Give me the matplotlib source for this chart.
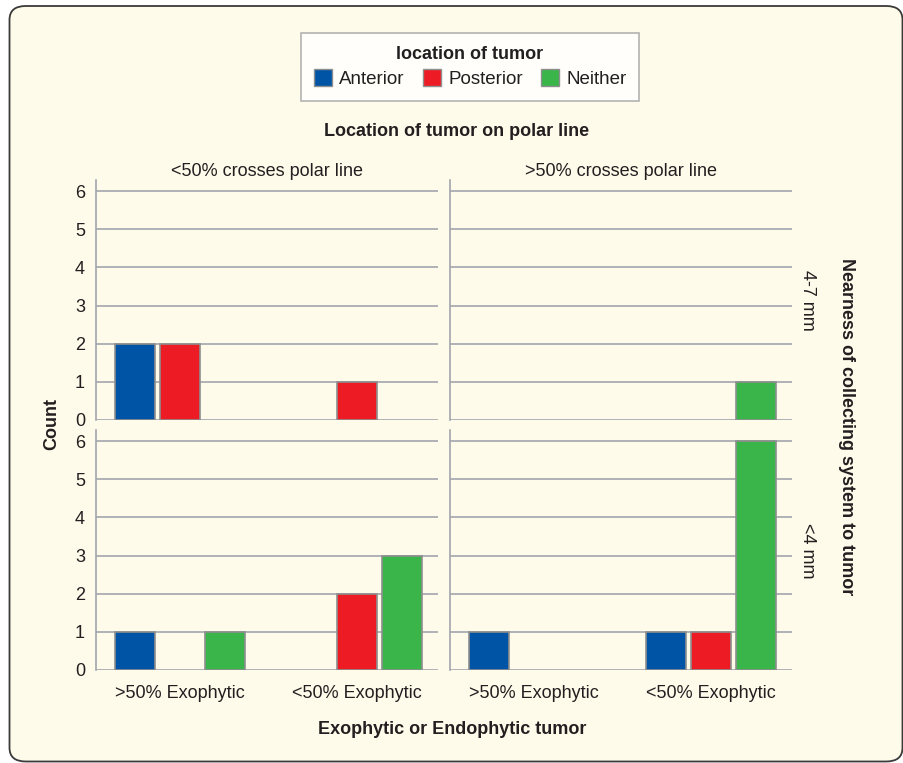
import matplotlib
matplotlib.use("Agg")
import matplotlib.pyplot as plt
from matplotlib.patches import Patch, FancyBboxPatch
import numpy as np

plt.rcParams['font.family'] = ['Liberation Sans', 'DejaVu Sans']

# data
exophytic = [">50% Exophytic", "<50% Exophytic"]
locations = ["Anterior", "Posterior", "Neither"]
polar = ["<50% crosses polar line", ">50% crosses polar line"]
nearness = ["4-7 mm", "<4 mm"]

# counts per location, values for each exophytic group
near47_lt50 = {"Anterior": [2, 0], "Posterior": [2, 1], "Neither": [0, 0]}
near47_gt50 = {"Anterior": [0, 0], "Posterior": [0, 0], "Neither": [0, 1]}
near4_lt50 = {"Anterior": [1, 0], "Posterior": [0, 2], "Neither": [1, 3]}
near4_gt50 = {"Anterior": [1, 1], "Posterior": [0, 1], "Neither": [0, 6]}
panels = [[near47_lt50, near47_gt50], [near4_lt50, near4_gt50]]

colors = {"Anterior": "#0054A6", "Posterior": "#ED1C24", "Neither": "#39B54A"}
edge = "#8E8E8E"
grid_c = "#A3A5AD"
bg = "#FFFBEA"
txt = "#231F20"

W, H = 904, 763
fig = plt.figure(figsize=(W / 100, H / 100), dpi=100)
fig.patch.set_facecolor("white")

frame = FancyBboxPatch((9.5 / W, 1.5 / H), 893 / W, 755.5 / H,
                       boxstyle="round,pad=0,rounding_size=0.018",
                       transform=fig.transFigure, facecolor=bg,
                       edgecolor="#3a3a3a", linewidth=1.3, zorder=-10)
fig.patches.append(frame)


def px_axes(x0, y0, x1, y1):
    return fig.add_axes([x0 / W, 1 - y1 / H, (x1 - x0) / W, (y1 - y0) / H])


cols_px = [(96, 438), (450, 792)]
rows_px = [(180, 420), (430, 670)]
bw = 0.226
off = 0.254
x = np.arange(len(exophytic))

for r, (y0, y1) in enumerate(rows_px):
    for c, (x0, x1) in enumerate(cols_px):
        ax = px_axes(x0, y0, x1, y1)
        ax.set_facecolor("none")
        data = panels[r][c]
        for i, loc in enumerate(locations):
            vals = np.array(data[loc], dtype=float)
            xs = x + (i - 1) * off
            mask = vals > 0
            ax.bar(xs[mask], vals[mask], width=bw, color=colors[loc],
                   edgecolor=edge, linewidth=1.2, zorder=3)
        ax.set_xlim(-0.475, 1.457)
        ax.set_ylim(0, 6.29)
        ax.set_yticks(range(7))
        for yv in range(7):
            ax.axhline(yv, color=grid_c, linewidth=1.2, zorder=1)
        for s in ["top", "right", "bottom"]:
            ax.spines[s].set_visible(False)
        ax.spines["left"].set_color(grid_c)
        ax.spines["left"].set_linewidth(1.2)
        ax.tick_params(axis="y", length=0, labelsize=13, colors=txt, pad=8)
        ax.tick_params(axis="x", length=0, labelsize=13, colors=txt, pad=11)
        if c == 1:
            ax.set_yticklabels([])
        if r == 1:
            ax.set_xticks(x)
            ax.set_xticklabels(exophytic)
        else:
            ax.set_xticks([])
        if r == 0:
            ax.set_title(polar[c], fontsize=13, color=txt, pad=2)

# row labels
fig.text(808 / W, 1 - 300 / H, nearness[0], rotation=-90, fontsize=13,
         color=txt, ha="center", va="center")
fig.text(808 / W, 1 - 551 / H, nearness[1], rotation=-90, fontsize=13,
         color=txt, ha="center", va="center")

fig.text(52 / W, 1 - 424 / H, "Count", rotation=90, fontsize=13,
         fontweight="bold", color=txt, ha="center", va="center")
fig.text(847 / W, 1 - 427 / H, "Nearness of collecting system to tumor",
         rotation=-90, fontsize=13, fontweight="bold", color=txt,
         ha="center", va="center")
fig.text(457 / W, 1 - 131 / H, "Location of tumor on polar line",
         fontsize=13, fontweight="bold", color=txt, ha="center", va="center")
fig.text(452 / W, 1 - 730 / H, "Exophytic or Endophytic tumor",
         fontsize=13, fontweight="bold", color=txt, ha="center", va="center")

handles = [Patch(facecolor=colors[l], edgecolor=edge, label=l) for l in locations]
leg = fig.legend(handles=handles, loc="center", ncol=3,
                 bbox_to_anchor=(470 / W, 1 - 67 / H), frameon=True,
                 fontsize=13.5, title="location of tumor",
                 title_fontproperties={"weight": "bold", "size": 13},
                 handlelength=0.96, handleheight=0.96, handletextpad=0.4,
                 columnspacing=0.95, borderpad=0.7, fancybox=False,
                 edgecolor="#A0A0A0", labelspacing=0.35)
leg.get_frame().set_linewidth(1.2)
for t in leg.get_texts():
    t.set_color(txt)
leg.get_title().set_color(txt)

fig.savefig("out.png", dpi=100, facecolor="white")
